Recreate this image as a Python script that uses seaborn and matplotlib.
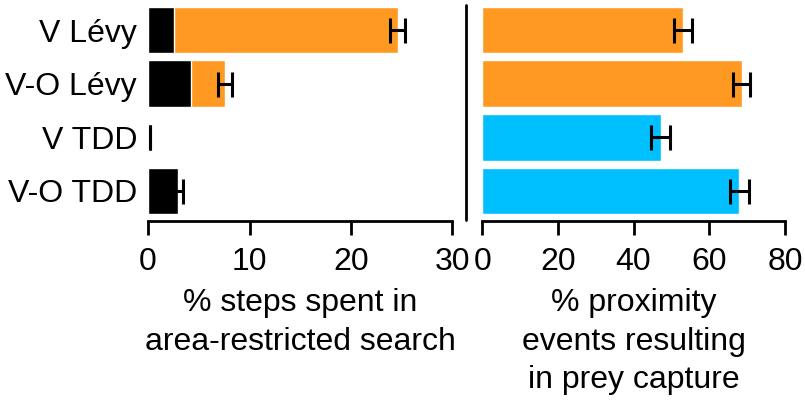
import numpy as np
import pandas as pd
import matplotlib
matplotlib.use("Agg")
import matplotlib.pyplot as plt
import seaborn as sns

sns.set_style("white")
plt.rcParams['font.family'] = ['Liberation Sans', 'DejaVu Sans']
plt.rcParams['text.color'] = 'black'
plt.rcParams['axes.labelcolor'] = 'black'

# data
labels = ["V Lévy", "V-O Lévy", "V TDD", "V-O TDD"]
ars_total = [24.6, 7.6, 0.2, 3.0]
ars_black = [2.6, 4.2, 0.12, 2.9]
ars_err = [0.75, 0.7, 0.02, 0.4]
capture = [53.1, 68.6, 47.2, 68.0]
capture_err = [2.4, 2.3, 2.5, 2.4]

orange = "#FF9922"
blue = "#00BFFF"
bar_colors = [orange, orange, blue, blue]

df = pd.DataFrame({"model": labels, "total": ars_total, "black": ars_black,
                   "err": ars_err, "capture": capture, "cerr": capture_err})

fig = plt.figure(figsize=(8.05, 4.0), dpi=100)
ax1 = fig.add_axes([0.184, 0.4475, 0.378, 0.5525])
ax2 = fig.add_axes([0.599, 0.4475, 0.376, 0.5525])

FS = 23

# left panel: % steps in ARS (coloured total, black part overlaid)
sns.barplot(data=df, x="total", y="model", hue="model", palette=bar_colors,
            orient="h", width=0.866, legend=False, ax=ax1, saturation=1)
sns.barplot(data=df, x="black", y="model", color="black",
            orient="h", width=0.866, ax=ax1, saturation=1)
ax1.errorbar(df["total"], np.arange(4), xerr=df["err"], fmt="none",
             ecolor="black", elinewidth=2.2, capsize=9, capthick=2.2)

# right panel: % proximity events -> capture
sns.barplot(data=df, x="capture", y="model", hue="model", palette=bar_colors,
            orient="h", width=0.866, legend=False, ax=ax2, saturation=1)
ax2.errorbar(df["capture"], np.arange(4), xerr=df["cerr"], fmt="none",
             ecolor="black", elinewidth=2.2, capsize=9, capthick=2.2)

for ax, lim, ticks in [(ax1, 30, [0, 10, 20, 30]), (ax2, 80, [0, 20, 40, 60, 80])]:
    ax.set_xlim(0, lim)
    ax.set_ylim(3.56, -0.56)
    ax.set_xticks(ticks)
    for s in ["top", "right", "left"]:
        ax.spines[s].set_visible(False)
    ax.spines["bottom"].set_linewidth(2)
    ax.spines["bottom"].set_color("black")
    ax.tick_params(axis="x", direction="out", length=10, width=2,
                   labelsize=FS, pad=9, bottom=True, colors="black")
    ax.set_ylabel("")

ax1.tick_params(axis="y", length=0, labelsize=FS, pad=8, labelcolor="black")
ax2.set_yticks([])

ax1.set_xlabel("% steps spent in\narea-restricted search", fontsize=FS,
               labelpad=8, linespacing=1.35)
ax2.set_xlabel("% proximity\nevents resulting\nin prey capture", fontsize=FS,
               labelpad=8, linespacing=1.35)

# vertical separator between panels
fig.add_artist(plt.Line2D([466 / 805, 466 / 805], [1 - 5 / 400, 1 - 220 / 400],
                          color="black", linewidth=2))

fig.savefig("out.png", dpi=100)
